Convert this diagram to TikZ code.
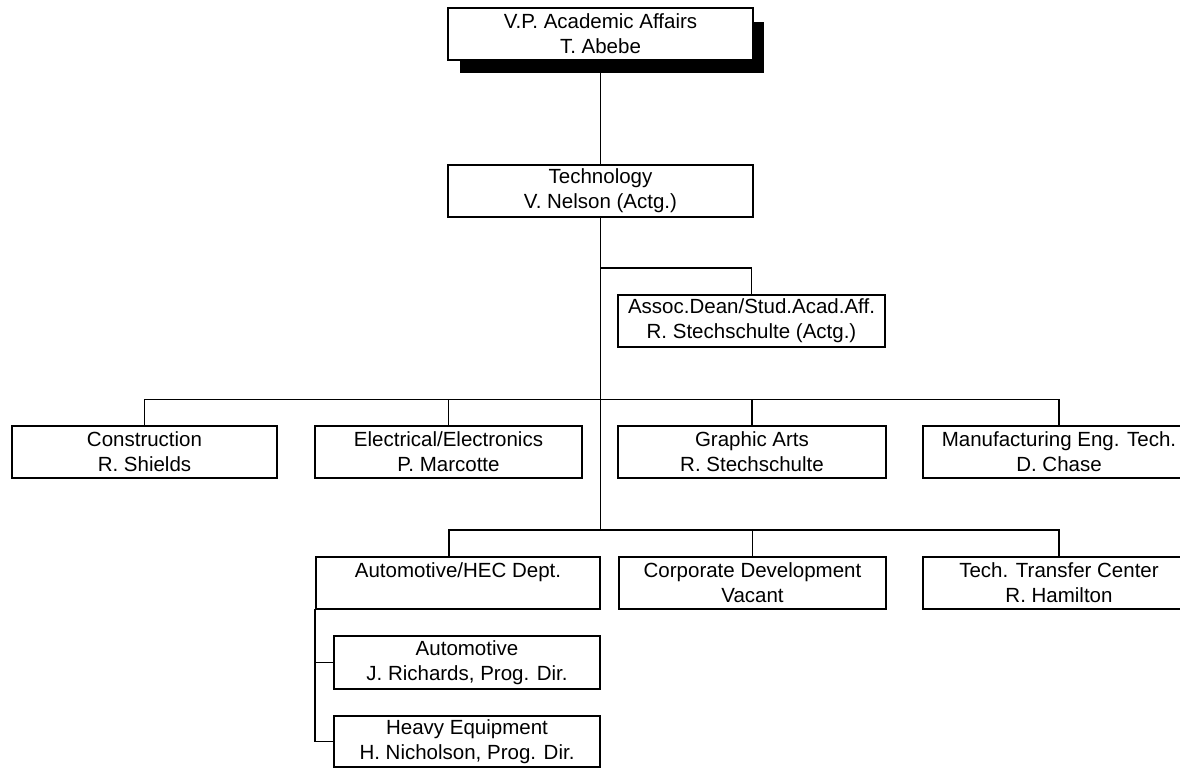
\documentclass[tikz,border=0pt]{standalone}
\usepackage{fontspec}
\setmainfont{Liberation Sans}
\begin{document}
\begin{tikzpicture}[x=1pt,y=-1pt,
  box/.style={draw=black, fill=white, line width=1.1pt, inner sep=0pt, align=center,
    minimum height=52pt, font=\fontsize{20.5}{25}\selectfont},
  conn/.style={draw=black, line width=1.1pt}]
\useasboundingbox (0,0) rectangle (1180,769);
\clip (0,0) rectangle (1180,769);
% shadow of top box
\fill[black] (460,22) rectangle (764,73);
\node[box, minimum width=305pt] (vp) at (600.5,34) {V.P. Academic Affairs\\T. Abebe};
\node[box, minimum width=305pt] (tech) at (600.5,191) {Technology\\V. Nelson (Actg.)};
\node[box, minimum width=267pt] (assoc) at (751.5,321) {Assoc.Dean/Stud.Acad.Aff.\\R. Stechschulte (Actg.)};
\node[box, minimum width=265pt] (cons) at (144.5,452) {Construction\\R. Shields};
\node[box, minimum width=267pt] (elec) at (448.5,452) {Electrical/Electronics\\P. Marcotte};
\node[box, minimum width=268pt] (graph) at (752,452) {Graphic Arts\\R. Stechschulte};
\node[box, minimum width=272pt] (manu) at (1059,452) {Manufacturing Eng. Tech.\\D. Chase};
\node[box, minimum width=284pt] (auto) at (458,583) {Automotive/HEC Dept.\\\mbox{}};
\node[box, minimum width=267pt] (corp) at (752.5,583) {Corporate Development\\Vacant};
\node[box, minimum width=272pt] (ttc) at (1059,583) {Tech. Transfer Center\\R. Hamilton};
\node[box, minimum width=266pt, minimum height=53pt] (autom) at (467,662.5) {Automotive\\J. Richards, Prog. Dir.};
\node[box, minimum width=266pt, minimum height=51pt] (heavy) at (467,741.5) {Heavy Equipment\\H. Nicholson, Prog. Dir.};
% coordinates
\coordinate (b1) at (600.5,268);
\coordinate (h4) at (600.5,530);
\coordinate (a4) at (449,557);
\coordinate (a5) at (315,609);
% connectors
\draw[conn] (vp.south) -- (tech.north);
\draw[conn] (tech.south) -- (h4);
\draw[conn] (b1) -| (assoc.north);
\draw[conn] (cons.north) -- ++(0,-26) -| (manu.north);
\draw[conn] (elec.north) -- ++(0,-26);
\draw[conn] (graph.north) -- ++(0,-26);
\draw[conn] (a4) -- ++(0,-27) -| (ttc.north);
\draw[conn] (corp.north) -- ++(0,-27);
\draw[conn] (a5) |- (heavy.west);
\draw[conn] (a5 |- autom.west) -- (autom.west);
\end{tikzpicture}
\end{document}
